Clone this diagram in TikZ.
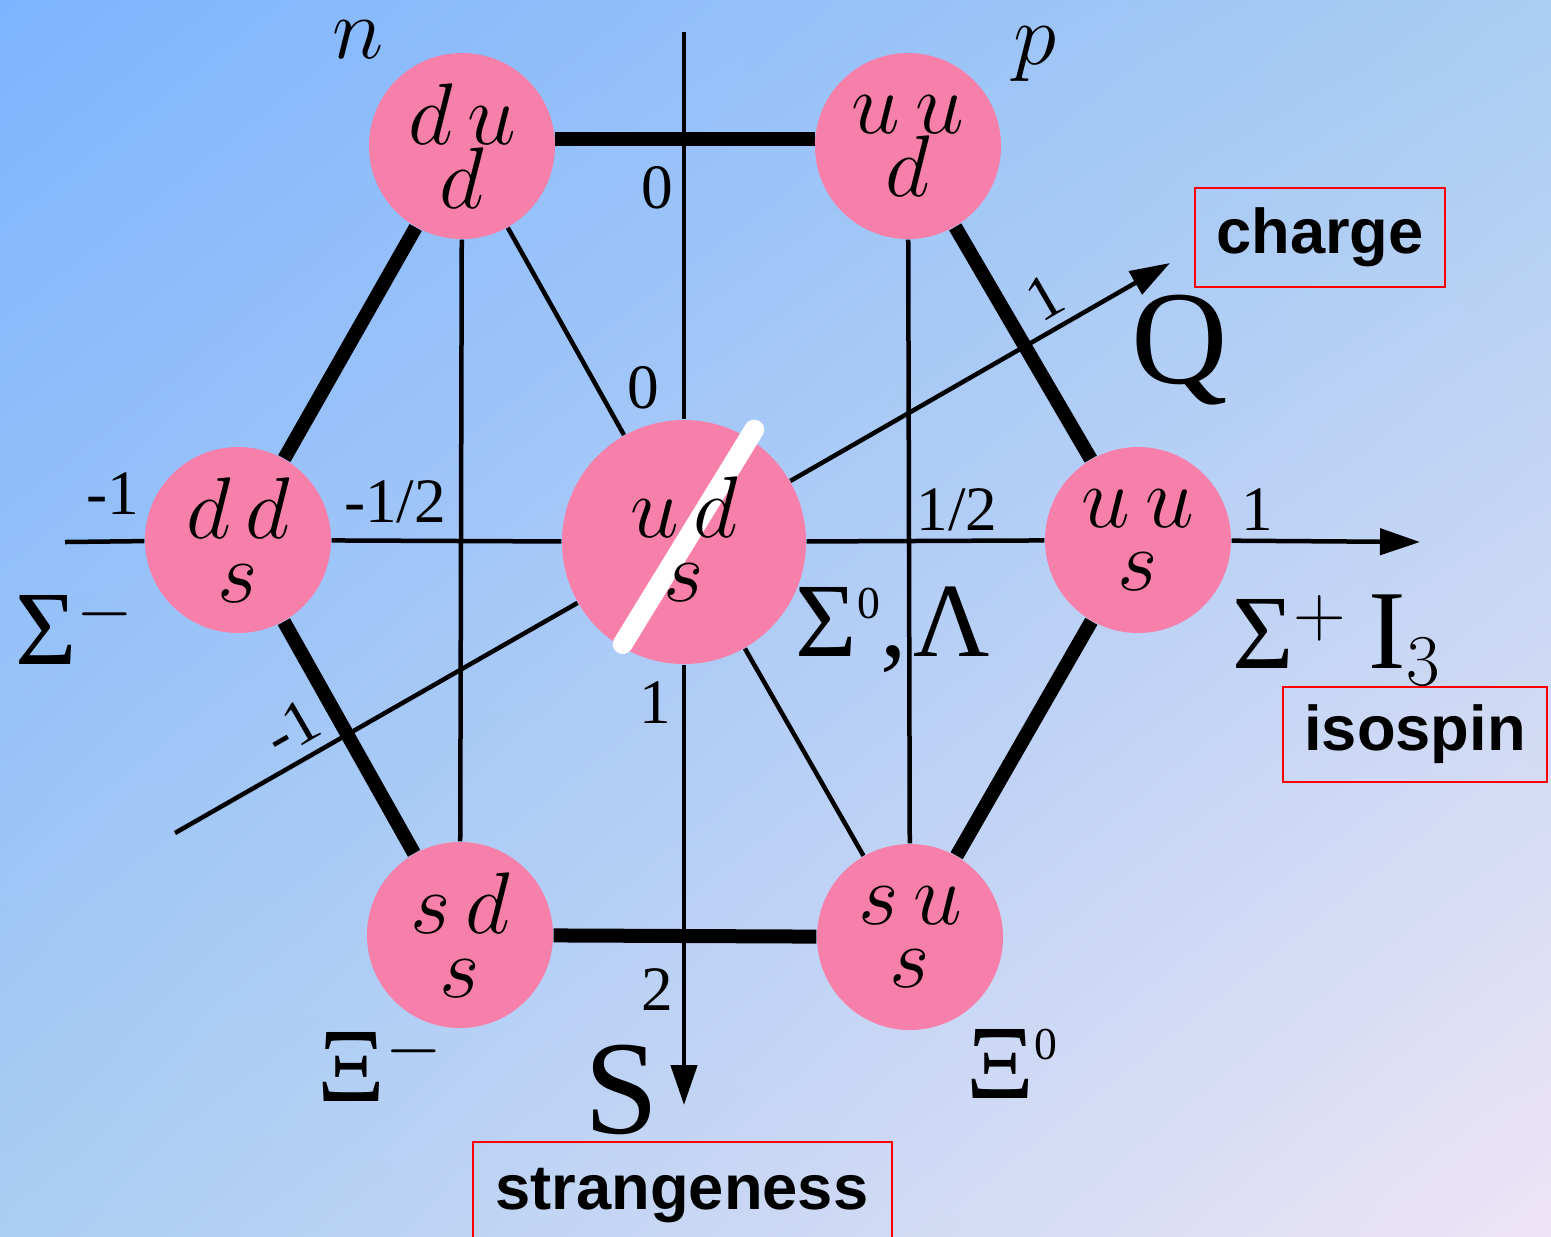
\documentclass[tikz,border=0pt]{standalone}
\usepackage{fontspec}
\setmainfont{Liberation Serif}
\newfontfamily\boxfont{Liberation Sans}
\usetikzlibrary{arrows.meta,calc,shadings}
\definecolor{bgtl}{RGB}{126,180,255}
\definecolor{bgtr}{RGB}{170,205,242}
\definecolor{bgbl}{RGB}{170,205,242}
\definecolor{bgbr}{RGB}{238,228,246}
\definecolor{quark}{RGB}{247,128,170}
\newcommand{\smallidx}[1]{\raisebox{11pt}{\fontsize{13}{13}\selectfont #1}}

\begin{document}
\begin{tikzpicture}[x=0.1mm, y=-0.1mm, every node/.style={inner sep=0pt},
			q/.style={circle, fill=quark, minimum size=18.6mm, align=center, font=\fontsize{24}{18}\selectfont},
			num/.style={font=\fontsize{18}{18}\selectfont},
			gr/.style={font=\fontsize{30}{30}\selectfont},
			big/.style={font=\fontsize{38}{38}\selectfont},
			tag/.style={draw=red, line width=0.2mm, font=\boxfont\bfseries\fontsize{18}{18}\selectfont},
			heavy/.style={line width=1.4mm},
			ln/.style={line width=0.45mm},
			ar/.style={-{Triangle[length=4mm,width=2.6mm]}}]
			\useasboundingbox (0,0) rectangle (1551,1236);
			\shade[upper left=bgtl, upper right=bgtr, lower left=bgbl, lower right=bgbr] (0,0) rectangle (1551,1236);
			% baryon octet
			\node[q] (dud) at (462,146) {$d\,u$\\$d$};
			\node[q] (uud) at (908,146) {$u\,u$\\$d$};
			\node[q] (dds) at (238,540) {$d\,d$\\$s$};
			\node[q, minimum size=24.4mm] (uds) at (684,542) {};
			\node[q] (uus) at (1138,540) {$u\,u$\\$s$};
			\node[q] (sds) at (460,935) {$s\,d$\\$s$};
			\node[q] (sus) at (910,937) {$s\,u$\\$s$};
			\draw[white, line width=2mm, line cap=round] ($(uds.center)!1.08!(uds.58)$) -- ($(uds.center)!0.97!(uds.239)$);
			\node[q, fill=none] (udst) at (684,539) {$u\,d$\\$s$};
			% axes
			\coordinate (i0) at (65,542);
			\coordinate (i1) at (1420,542);
			\coordinate (s0) at (684,32);
			\coordinate (s1) at (684,1105);
			\coordinate (q0) at (175,833);
			\coordinate (q1) at (1170,263);
			\foreach \a/\b in {i0/dds, dds/uds, s0/uds, q0/uds} \draw[ln] (\a) -- (\b);
			\foreach \a/\b in {uus/i1, uds/s1, uds/q1} \draw[ln, ar] (\a) -- (\b);
			\draw[ln] (uds) -- (uus);
			\foreach \a/\b in {dud/sds, uud/sus, dud/uds, uds/sus} \draw[ln] (\a) -- (\b);
			\draw[heavy] (dud.4) -- (uud.176);
			\foreach \a/\b in {uud/uus, uus/sus, sus/sds, sds/dds, dds/dud} \draw[heavy] (\a) -- (\b);
			% values
			\node[num] (s0v) at (657,188) {0};
			\node[num] (s1v) at (655,703) {1};
			\node[num] (s2v) at (657,990) {2};
			\node[num] (qzv) at (643,388) {0};
			\node[num, rotate=30] (qpv) at (1045,297) {1};
			\node[num, rotate=30] (qmv) at (292,728) {-1};
			\node[num] (imv) at (113,494) {-1};
			\node[num] (ihmv) at (395,502) {-1/2};
			\node[num] (ihpv) at (957,510) {1/2};
			\node[num] (ipv) at (1257,510) {1};
			% names
			\node[gr, font=\fontsize{26}{26}\selectfont] (nn) at (358,40) {$n$};
			\node[gr, font=\fontsize{26}{26}\selectfont] (pp) at (1035,54) {$p$};
			\node[gr] (sgm) at (75,627) {Σ$^{-}$};
			\node[gr] (sgp) at (1290,632) {Σ$^{+}$};
			\node[gr] (sgl) at (893,630) {Σ\smallidx{0},\kern2pt Λ};
			\node[gr] (xim) at (381,1064) {Ξ$^{-}$};
			\node[gr] (xiz) at (1012,1064) {Ξ\smallidx{0}};
			\node[big] (ql) at (1180,350) {Q};
			\node[big] (sl) at (622,1090) {S};
			\node[big, font=\fontsize{32}{32}\selectfont] (il) at (1405,640) {I$_3$};
			% boxes
			\node[tag, minimum width=25mm, minimum height=9.9mm] (chg) at (1320,237) {charge};
			\node[tag, minimum width=26.4mm, minimum height=9.5mm] (iso) at (1415,734) {isospin};
			\node[tag, minimum width=41.9mm, minimum height=10.8mm] (str) at (682,1196) {strangeness};
		\end{tikzpicture}
\end{document}
